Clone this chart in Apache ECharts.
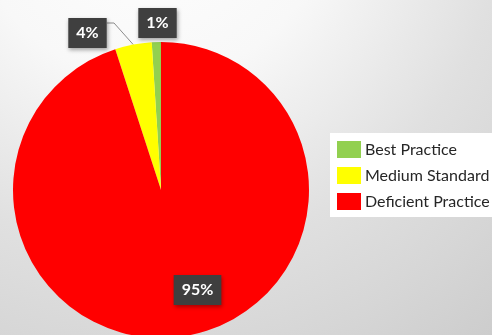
<!DOCTYPE html>
<html>
<head>
<meta charset="utf-8">
<script src="https://cdn.jsdelivr.net/npm/echarts@6/dist/echarts.min.js"></script>
<style>
html,body{margin:0;padding:0;background:#fff;}
#chart{width:492px;height:335px;}
</style>
</head>
<body>
<div id="chart"></div>
<script>
// ---- data ----
const categories = ['Best Practice', 'Medium Standard', 'Deficient Practice'];
const values = [1, 4, 95];
const colors = ['#92D050', '#FFFF00', '#FF0000'];

// ---- label placement (layout only) ----
const labelCenters = [[157.5, 23], [87.5, 33], [197.5, 290]];

const chart = echarts.init(document.getElementById('chart'), null, {renderer: 'canvas'});

const option = {
  backgroundColor: {
    type: 'radial', x: 150, y: -100, r: 600, global: true,
    colorStops: [
      {offset: 0, color: '#ffffff'},
      {offset: 0.3, color: '#f8f8f8'},
      {offset: 0.59, color: '#e0e0e0'},
      {offset: 0.77, color: '#d6d6d6'},
      {offset: 0.92, color: '#cdcdcd'},
      {offset: 1, color: '#c9c9c9'}
    ]
  },
  animation: false,
  legend: {
    orient: 'vertical',
    left: 330,
    top: 133,
    padding: [8, 10, 7, 7],
    backgroundColor: '#ffffff',
    itemWidth: 24,
    itemHeight: 17,
    itemGap: 9,
    itemStyle: {borderWidth: 0},
    icon: 'rect',
    textStyle: {fontFamily: 'Lato', fontSize: 16, color: '#262626', lineHeight: 17, padding: [0, 0, 0, -1]},
    data: categories
  },
  series: [{
    type: 'pie',
    center: [161, 190],
    radius: 148,
    startAngle: 90,
    clockwise: false,
    avoidLabelOverlap: false,
    emphasis: {disabled: true},
    itemStyle: {borderWidth: 0},
    label: {
      show: true,
      position: 'outside',
      formatter: '{d}%',
      fontFamily: 'Lato',
      fontWeight: 'bold',
      fontSize: 16,
      lineHeight: 18,
      color: '#ffffff',
      backgroundColor: '#3f3f3f',
      padding: [6, 8],
      shadowBlur: 4,
      shadowColor: 'rgba(0,0,0,0.35)',
      shadowOffsetX: 1,
      shadowOffsetY: 2
    },
    labelLine: {show: true, lineStyle: {color: '#8c8c8c', width: 1}},
    labelLayout: function (p) {
      const c = labelCenters[p.dataIndex];
      const res = {x: c[0], y: c[1], align: 'center', verticalAlign: 'middle'};
      if (p.dataIndex === 1 && p.labelLinePoints) {
        const start = p.labelLinePoints[0];
        const right = c[0] + 19.5;
        const yy = c[1] - 10;
        res.labelLinePoints = [start, [right + 7, yy], [right, yy]];
      }
      return res;
    },
    data: categories.map((name, i) => ({
      name: name,
      value: values[i],
      itemStyle: {color: colors[i]},
      labelLine: {show: i === 1}
    }))
  }]
};
chart.setOption(option);
</script>
</body>
</html>
